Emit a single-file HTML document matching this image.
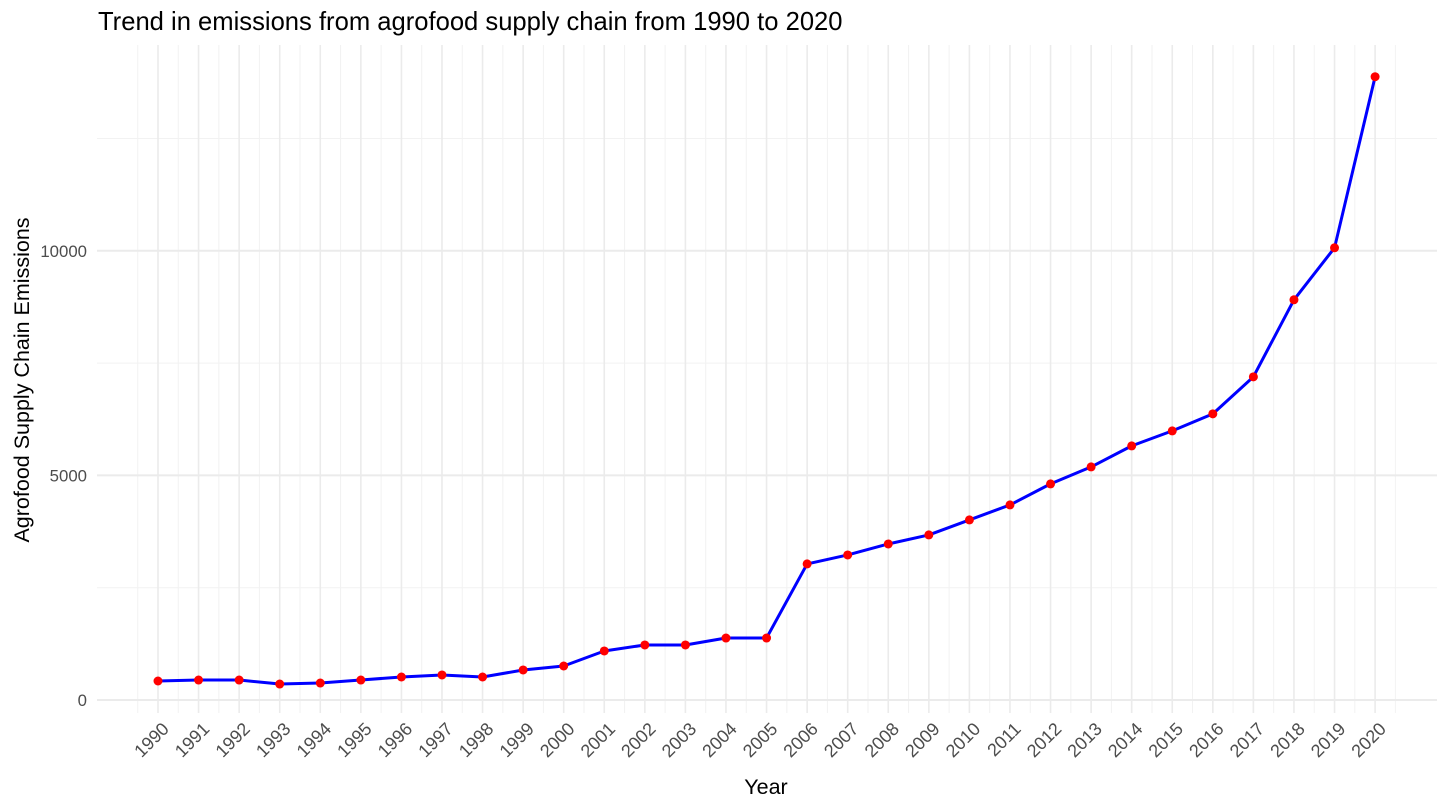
<!DOCTYPE html>
<html><head><meta charset="utf-8"><style>
body{margin:0;background:#fff;}
svg{display:block;font-family:"Liberation Sans",Arial,sans-serif;}
</style></head><body>
<svg id="chart" width="1447" height="807">
<text x="98" y="30" font-size="25.6" fill="#000">Trend in emissions from agrofood supply chain from 1990 to 2020</text>
<g id="grid"></g>
<g id="yticks"></g>
<g id="xticks"></g>
<g id="series"></g>
<text x="766" y="794" font-size="21.5" text-anchor="middle" fill="#000">Year</text>
<text transform="translate(29,380) rotate(-90)" font-size="21.5" text-anchor="middle" fill="#000">Agrofood Supply Chain Emissions</text>
</svg>
<script>
const years=[1990,1991,1992,1993,1994,1995,1996,1997,1998,1999,2000,2001,2002,2003,2004,2005,2006,2007,2008,2009,2010,2011,2012,2013,2014,2015,2016,2017,2018,2019,2020];
const emissions=[423,445,445,356,378,445,512,557,512,668,757,1091,1225,1225,1380,1380,3029,3229,3474,3675,4009,4343,4811,5189,5657,5991,6370,7194,8909,10067,13875];
const yTicks=[0,5000,10000];
const yMinor=[2500,7500,12500];
const NS="http://www.w3.org/2000/svg";
const X=v=>158+(v-1990)*40.57;
const Y=v=>700-v*0.04492;
const L=97,R=1437,T=45,B=713;
function mk(t,a,p){const e=document.createElementNS(NS,t);for(const k in a)e.setAttribute(k,a[k]);p.appendChild(e);return e;}
const grid=document.getElementById('grid');
yMinor.forEach(v=>{const l=mk('line',{x1:L,x2:R,y1:Y(v),y2:Y(v),stroke:'#f2f2f2','stroke-width':1},grid);

});
for(let i=-1;i<years.length;i++){const x=X(years[0]+i+0.5);const l=mk('line',{x1:x,x2:x,y1:T,y2:B,stroke:'#f2f2f2','stroke-width':1},grid);

}
yTicks.forEach(v=>{const l=mk('line',{x1:L,x2:R,y1:Y(v),y2:Y(v),stroke:'#ebebeb','stroke-width':2},grid);


const t=mk('text',{x:87,y:Y(v)+6,'font-size':16.8,'text-anchor':'end',fill:'#4d4d4d'},document.getElementById('yticks'));
t.textContent=v;

});
years.forEach(yr=>{const x=X(yr);const l=mk('line',{x1:x,x2:x,y1:T,y2:B,stroke:'#ebebeb','stroke-width':1.6},grid);


const t=mk('text',{transform:`translate(${x+12},${730}) rotate(-45)`,'font-size':18,'text-anchor':'end',fill:'#4d4d4d'},document.getElementById('xticks'));
t.textContent=yr;

});
const s=document.getElementById('series');
const line=mk('polyline',{points:years.map((yr,i)=>X(yr)+','+Y(emissions[i])).join(' '),fill:'none',stroke:'#0000ff','stroke-width':3,'stroke-linejoin':'round'},s);


years.forEach((yr,i)=>{const c=mk('circle',{cx:X(yr),cy:Y(emissions[i]),r:4.5,fill:'#ff0000'},s);

});
</script>
</body></html>
